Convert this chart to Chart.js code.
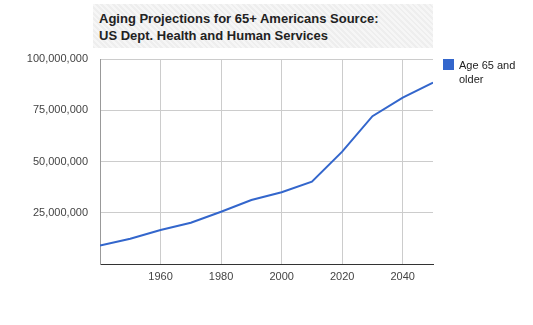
<!DOCTYPE html>
<html>
<head>
<meta charset="utf-8">
<script src="https://cdn.jsdelivr.net/npm/chart.js@4"></script>
<style>
  body { margin: 0; background: #fff; }
  #wrap { position: relative; width: 533px; height: 325px; }
  #title {
    position: absolute; left: 93px; top: 4px; width: 340px; height: 44px;
    background: repeating-linear-gradient(45deg, #eeeeee 0px, #eeeeee 2px, #f6f6f6 2px, #f6f6f6 4px);
    font: bold 13px "Liberation Sans", Arial, sans-serif; color: #222;
    line-height: 17px; padding: 6px 0 0 6px; box-sizing: border-box;
  }
  #legend {
    position: absolute; left: 443px; top: 58px;
    font: 11px "Liberation Sans", Arial, sans-serif; color: #222; line-height: 14px;
  }
  #legend .sw { position: absolute; left: 0; top: 1px; width: 11px; height: 11px; background: #3366cc; }
  #legend .tx { margin-left: 16px; }
  canvas { position: absolute; left: 0; top: 0; }
</style>
</head>
<body>
<div id="wrap">
  <canvas id="c" width="533" height="325"></canvas>
  <div id="title">Aging Projections for 65+ Americans Source:<br>US Dept. Health and Human Services</div>
  <div id="legend"><span class="sw"></span><div class="tx">Age 65 and<br>older</div></div>
</div>
<script>
var years = [1940, 1950, 1960, 1970, 1980, 1990, 2000, 2010, 2020, 2030, 2040, 2050];
var population = [9000000, 12300000, 16600000, 20100000, 25500000, 31200000, 35000000, 40200000, 54800000, 72100000, 81200000, 88500000];
var xTicks = [1960, 1980, 2000, 2020, 2040];
var yTicks = [0, 25000000, 50000000, 75000000, 100000000];
var seriesLabel = 'Age 65 and older';

var ctx = document.getElementById('c').getContext('2d');
new Chart(ctx, {
  type: 'line',
  data: {
    datasets: [{
      label: seriesLabel,
      data: years.map((y, i) => ({x: y, y: population[i]})),
      borderColor: '#3366cc',
      borderWidth: 2,
      pointRadius: 0,
      tension: 0,
      fill: false
    }]
  },
  options: {
    responsive: false,
    animation: false,
    layout: { padding: { left: 0, right: 100, top: 59, bottom: 0 } },
    plugins: { legend: { display: false }, tooltip: { enabled: false } },
    scales: {
      x: {
        type: 'linear', min: 1940, max: 2050,
        afterBuildTicks: s => { s.ticks = xTicks.map(v => ({value: v})); },
        afterFit: s => { s.height = 61; },
        ticks: {
          color: '#444', font: { family: 'Liberation Sans', size: 11 }, padding: 6, maxRotation: 0,
          callback: v => String(v)
        },
        grid: { color: '#cccccc', drawTicks: false },
        border: { color: '#333333', width: 1 }
      },
      y: {
        min: 0, max: 100000000,
        afterBuildTicks: s => { s.ticks = yTicks.map(v => ({value: v})); },
        afterFit: s => { s.width = 100; },
        ticks: {
          color: '#444', font: { family: 'Liberation Sans', size: 11 }, padding: 12,
          callback: v => v === 0 ? '' : v.toLocaleString('en-US')
        },
        grid: { color: '#cccccc', drawTicks: false },
        border: { color: '#999999', width: 1 }
      }
    }
  }
});
</script>
</body>
</html>
